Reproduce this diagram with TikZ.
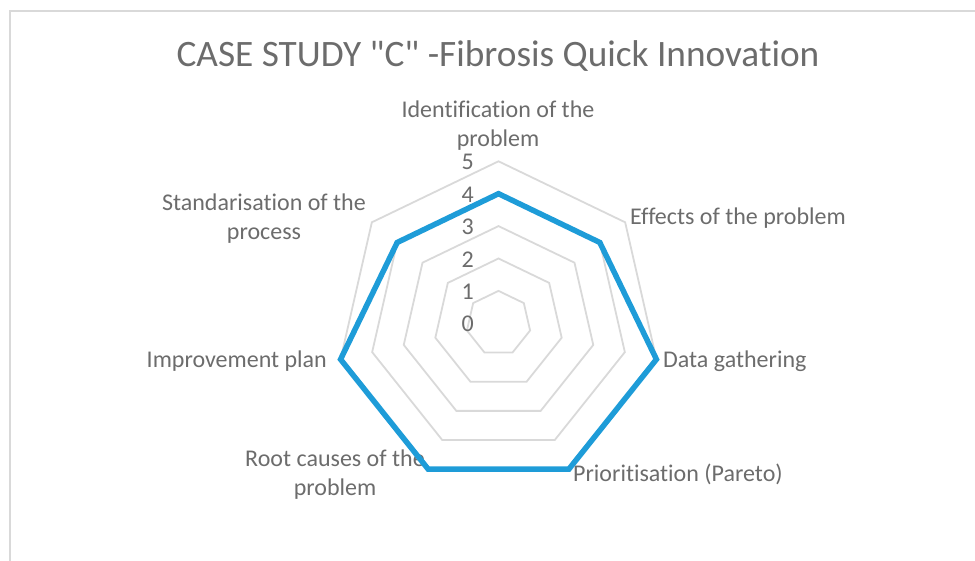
\documentclass[tikz,border=0pt]{standalone}
\usepackage{fontspec}
\setmainfont{Carlito}[Ligatures={TeXOff,NoCommon}]
\definecolor{txtgray}{RGB}{108,108,108}
\definecolor{ringgray}{RGB}{217,217,217}
\definecolor{serblue}{RGB}{30,156,216}
\begin{document}
\begin{tikzpicture}[x=1pt,y=1pt,
  lbl/.style={text=txtgray,font=\fontsize{24}{29}\selectfont,inner sep=0pt,align=center},
  numlbl/.style={text=txtgray,font=\fontsize{24}{29}\selectfont,inner sep=0pt,anchor=east},
  ttl/.style={text=txtgray,font=\fontsize{37.3}{44}\selectfont,inner sep=0pt},
  ring/.style={draw=ringgray,line width=1.8pt,line join=miter},
  series/.style={draw=serblue,line width=5.5pt,line join=miter,miter limit=10}]
\useasboundingbox (0,0) rectangle (975,561);
\clip (0,0) rectangle (975,561);
\draw[draw=ringgray,line width=2pt] (9.5,550) rectangle (1000,-20);
\node[ttl] (title) at (498,505) {CASE STUDY "C" -Fibrosis Quick Innovation};
\coordinate (c) at (498.5,237.7);
\begin{scope}[shift={(c)}]
  \foreach \r in {1,...,5}{
    \draw[ring] (90:\r*32.4) \foreach \k in {1,...,6}{ -- ({90-\k*360/7}:\r*32.4)} -- cycle;
  }
  \foreach \r in {0,...,5}{
    \node[numlbl] (n\r) at (-24.5,{\r*32.4-1}) {\r};
  }
\end{scope}
% axis labels
\node[lbl] (l1) at (498,435) {Identification of the\\problem};
\node[lbl,anchor=west] (l2) at (630,343) {Effects of the problem};
\node[lbl,anchor=west] (l3) at (663,200) {Data gathering};
\node[lbl,anchor=west] (l4) at (573,87) {Prioritisation (Pareto)};
\node[lbl] (l5) at (335,86) {Root causes of the\\problem};
\node[lbl,anchor=east] (l6) at (327,200) {Improvement plan};
\node[lbl] (l7) at (264,342.5) {Standarisation of the\\process};
% series
\begin{scope}[shift={(c)}]
  \coordinate (v0) at (90:4*32.4);
  \coordinate (v1) at ({90-1*360/7}:4*32.4);
  \coordinate (v2) at ({90-2*360/7}:5*32.4);
  \coordinate (v3) at ({90-3*360/7}:5*32.4);
  \coordinate (v4) at ({90-4*360/7}:5*32.4);
  \coordinate (v5) at ({90-5*360/7}:5*32.4);
  \coordinate (v6) at ({90-6*360/7}:4*32.4);
\end{scope}
\draw[series] (v0) -- (v1) -- (v2) -- (v3) -- (v4) -- (v5) -- (v6) -- cycle;
\end{tikzpicture}
\end{document}
